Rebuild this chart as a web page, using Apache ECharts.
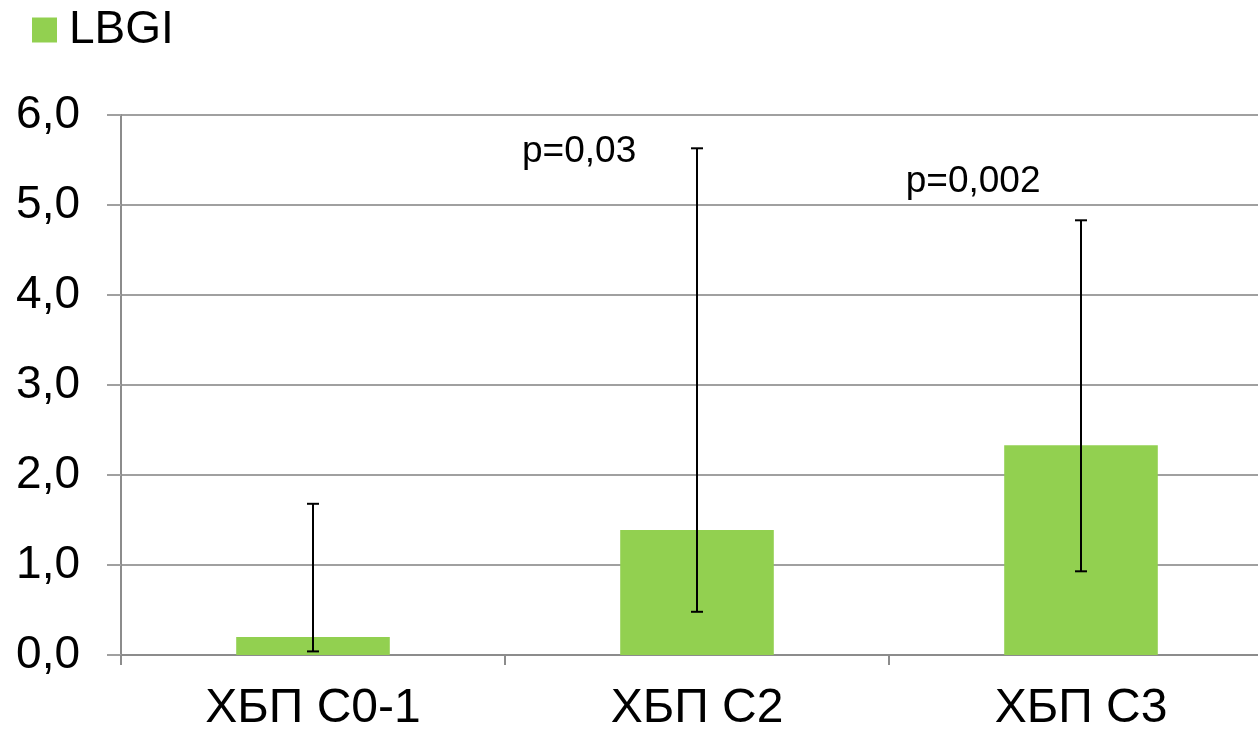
<!DOCTYPE html>
<html>
<head>
<meta charset="utf-8">
<script src="https://cdn.jsdelivr.net/npm/echarts@6/dist/echarts.min.js"></script>
<style>
html,body{margin:0;padding:0;background:#fff;}
#chart{width:1258px;height:731px;}
</style>
</head>
<body>
<div id="chart"></div>
<script>
const categories = ['ХБП С0-1', 'ХБП С2', 'ХБП С3'];
const seriesName = 'LBGI';
const values = [0.2, 1.39, 2.33];
const errLow = [0.04, 0.48, 0.93];
const errHigh = [1.68, 5.63, 4.83];
const yTicks = [0, 1, 2, 3, 4, 5, 6];
const annotationTexts = ['p=0,03', 'p=0,002'];
const annotationX = [1.193, 2.219];
const annotationY = [5.59, 5.26];

const FONT = '"Liberation Sans", Arial, sans-serif';
const chart = echarts.init(document.getElementById('chart'));

const option = {
  animation: false,
  backgroundColor: '#ffffff',
  legend: {
    left: 32, top: 7, padding: 0,
    itemWidth: 25, itemHeight: 25,
    icon: 'rect',
    data: [seriesName],
    textStyle: { fontSize: 46, lineHeight: 46, color: '#000', fontFamily: FONT, padding: [0, 0, 0, 7] }
  },
  grid: { left: 121, width: 1152, top: 115, bottom: 76, containLabel: false, outerBoundsMode: 'none' },
  xAxis: [{
    type: 'category',
    data: categories,
    axisLine: { lineStyle: { color: '#8c8c8c', width: 2 } },
    axisTick: { show: true, length: 10, lineStyle: { color: '#8c8c8c', width: 2 } },
    axisLabel: { fontSize: 48, color: '#000', fontFamily: FONT, margin: 30 }
  }, {
    type: 'value', min: 0, max: categories.length, show: false
  }],
  yAxis: {
    type: 'value', min: yTicks[0], max: yTicks[yTicks.length - 1], interval: 1,
    axisLine: { show: true, lineStyle: { color: '#8c8c8c', width: 2 } },
    axisTick: { show: true, length: 14, lineStyle: { color: '#a0a0a0', width: 2 } },
    splitLine: { lineStyle: { color: '#a0a0a0', width: 2 } },
    axisLabel: {
      fontSize: 46, color: '#000', fontFamily: FONT, margin: 41,
      formatter: v => v.toFixed(1).replace('.', ',')
    }
  },
  series: [{
    name: seriesName,
    type: 'bar',
    data: values,
    barWidth: '40%',
    itemStyle: { color: '#92D050' },
    z: 2
  }, {
    type: 'custom',
    name: 'err',
    data: categories.map((c, i) => [i, errLow[i], errHigh[i]]),
    z: 5,
    renderItem: function (params, api) {
      const x = api.value(0);
      const lo = api.coord([x, api.value(1)]);
      const hi = api.coord([x, api.value(2)]);
      const cap = 6;
      const style = { stroke: '#000', lineWidth: 2 };
      return {
        type: 'group',
        children: [
          { type: 'line', shape: { x1: lo[0], y1: lo[1], x2: hi[0], y2: hi[1] }, style },
          { type: 'line', shape: { x1: lo[0] - cap, y1: lo[1], x2: lo[0] + cap, y2: lo[1] }, style },
          { type: 'line', shape: { x1: hi[0] - cap, y1: hi[1], x2: hi[0] + cap, y2: hi[1] }, style }
        ]
      };
    },
    encode: { x: 0, y: [1, 2] }
  }, {
    type: 'custom',
    name: 'annot',
    xAxisIndex: 1,
    data: annotationTexts.map((t, i) => [annotationX[i], annotationY[i], i]),
    renderItem: function (params, api) {
      const p = api.coord([api.value(0), api.value(1)]);
      return {
        type: 'text',
        x: p[0], y: p[1],
        style: {
          text: annotationTexts[api.value(2)],
          fontSize: 37, fill: '#000', fontFamily: FONT,
          align: 'center', verticalAlign: 'middle'
        }
      };
    },
    encode: { x: 0, y: 1 },
    z: 6
  }]
};
chart.setOption(option);
</script>
</body>
</html>
